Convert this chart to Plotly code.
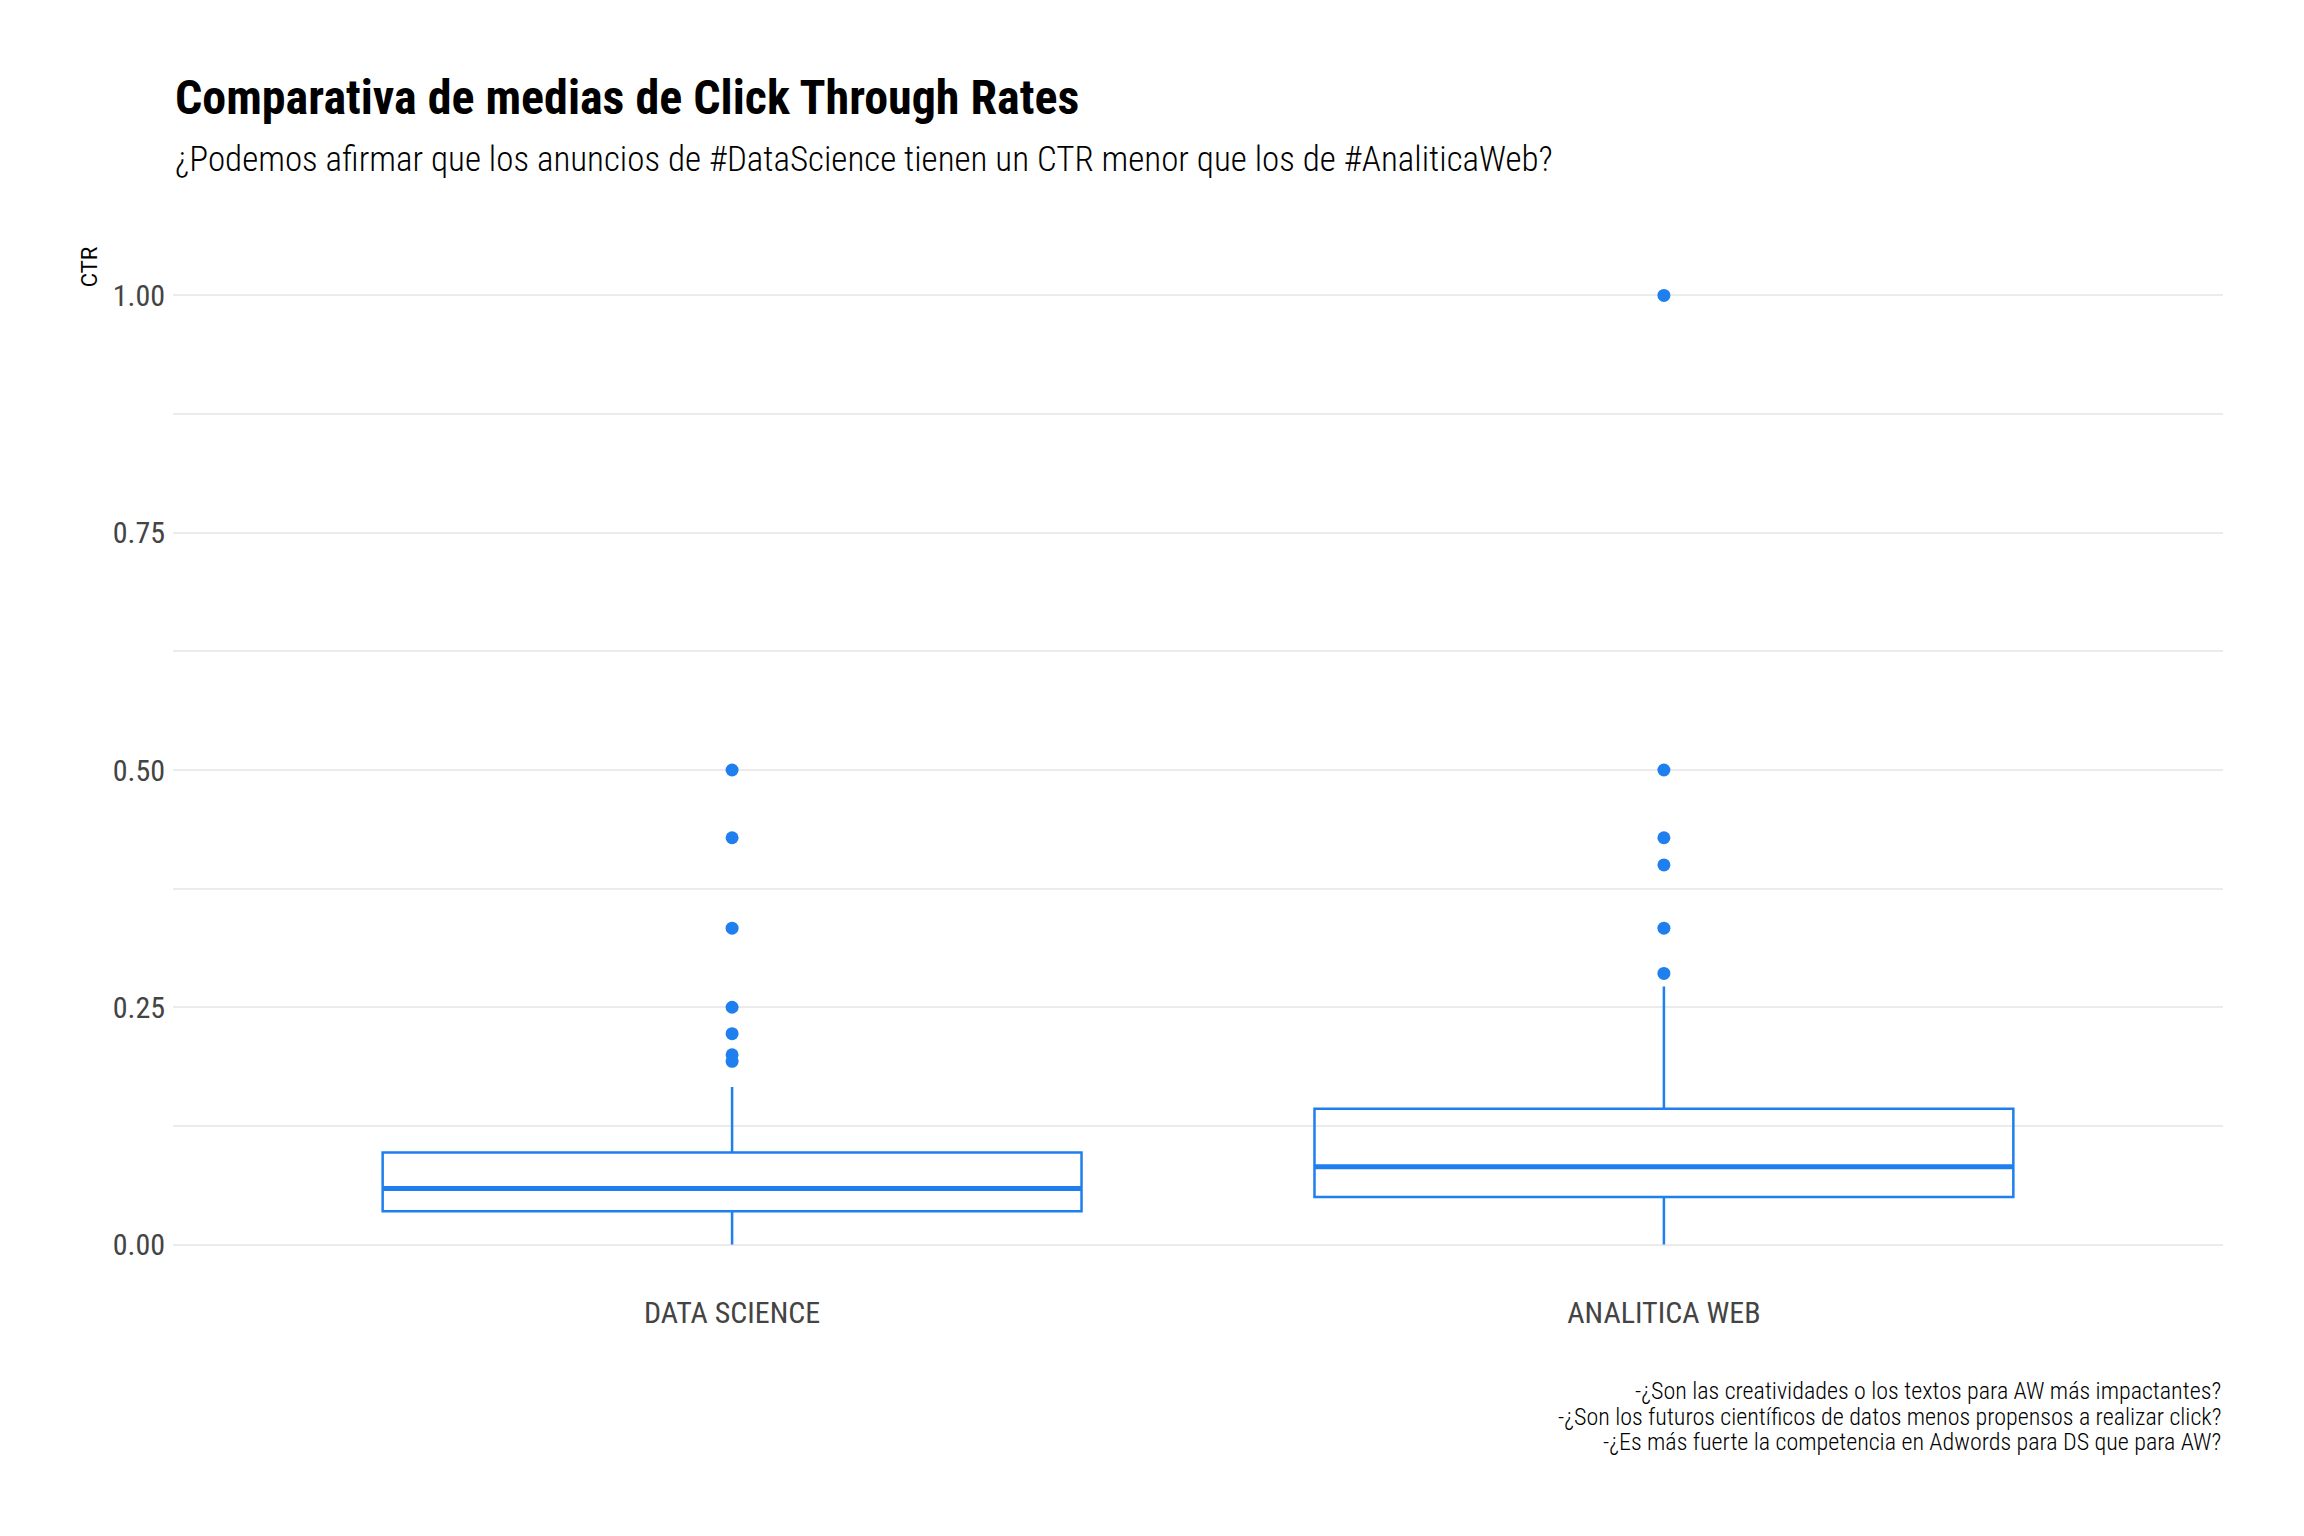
import plotly.graph_objects as go

# datos
categorias = ["DATA SCIENCE", "ANALITICA WEB"]
q1 = [0.035, 0.050]
mediana = [0.059, 0.082]
q3 = [0.097, 0.143]
bigote_inf = [0.0, 0.0]
bigote_sup = [0.166, 0.272]
outliers_ds = [0.50, 0.4286, 0.3333, 0.25, 0.2222, 0.20, 0.193]
outliers_aw = [1.00, 0.50, 0.4286, 0.40, 0.3333, 0.2857]
y_ticks = [0, 0.25, 0.50, 0.75, 1.00]

titulo = "Comparativa de medias de Click Through Rates"
subtitulo = "¿Podemos afirmar que los anuncios de #DataScience tienen un CTR menor que los de #AnaliticaWeb?"
caption = [
    "-¿Son las creatividades o los textos para AW más impactantes?",
    "-¿Son los futuros científicos de datos menos propensos a realizar click?",
    "-¿Es más fuerte la competencia en Adwords para DS que para AW?",
]

azul = "#1f7fef"
grid = "#ebebeb"
rc = "Roboto Condensed, Liberation Sans Narrow, Roboto, sans-serif"

W, H = 2304, 1536
top, bottom, left, right = 248, 1292, 173, 2223
ancho_caja = 0.75


def py(p):
    # pixel vertical -> coordenada paper
    return (bottom - p) / (bottom - top)


fig = go.Figure()
fig.add_trace(go.Box(
    x=categorias, q1=q1, median=mediana, q3=q3,
    lowerfence=bigote_inf, upperfence=bigote_sup,
    width=ancho_caja, whiskerwidth=0, boxpoints=False,
    line=dict(color=azul, width=2.5), fillcolor="rgba(0,0,0,0)",
    hoverinfo="skip", showlegend=False,
))
for cat, vals in zip(categorias, [outliers_ds, outliers_aw]):
    fig.add_trace(go.Scatter(
        x=[cat] * len(vals), y=vals, mode="markers",
        marker=dict(color=azul, size=13), showlegend=False,
    ))

# mediana mas gruesa
for i, m in enumerate(mediana):
    fig.add_shape(type="line", xref="x", yref="y",
                  x0=i - ancho_caja / 2, x1=i + ancho_caja / 2, y0=m, y1=m,
                  line=dict(color=azul, width=5))

anotaciones = [
    dict(text="<b>" + titulo + "</b>", x=0, y=py(98), xanchor="left", yanchor="middle",
         font=dict(family=rc, size=48, color="black")),
    dict(text=subtitulo, x=0, y=py(160), xanchor="left", yanchor="middle",
         font=dict(family=rc, size=35, color="black", weight=300)),
    dict(text="CTR", x=(89 - left) / (right - left), y=1.003, xanchor="center", yanchor="top",
         textangle=-90, font=dict(family="Roboto, sans-serif", size=22, color="black")),
]
for k, linea in enumerate(caption):
    anotaciones.append(dict(text=linea, x=1, y=py(1391 + 25.7 * k), xanchor="right", yanchor="middle",
                            font=dict(family=rc, size=24, color="black", weight=300)))
for a in anotaciones:
    a.update(xref="paper", yref="paper", showarrow=False)

fig.update_layout(
    width=W, height=H, autosize=False,
    margin=dict(l=left, r=W - right, t=top, b=H - bottom, pad=0),
    paper_bgcolor="white", plot_bgcolor="white",
    annotations=anotaciones,
    xaxis=dict(range=[-0.6, 1.6], showgrid=False, zeroline=False, showline=False,
               tickfont=dict(family=rc, size=30, color="#444444"), ticks="",
               ticklabelstandoff=0),
    yaxis=dict(range=[-0.05, 1.05], tickvals=y_ticks, tickformat=".2f",
               showgrid=True, gridcolor=grid, gridwidth=1.5, zeroline=False, showline=False,
               tickfont=dict(family=rc, size=30, color="#444444"), ticks="",
               ticklabelstandoff=7,
               minor=dict(dtick=0.125, tick0=0, showgrid=True, gridcolor=grid, gridwidth=1.5)),
)

fig.write_html("out.html", config={"displayModeBar": False},
               post_script="document.body.style.margin='0';")
